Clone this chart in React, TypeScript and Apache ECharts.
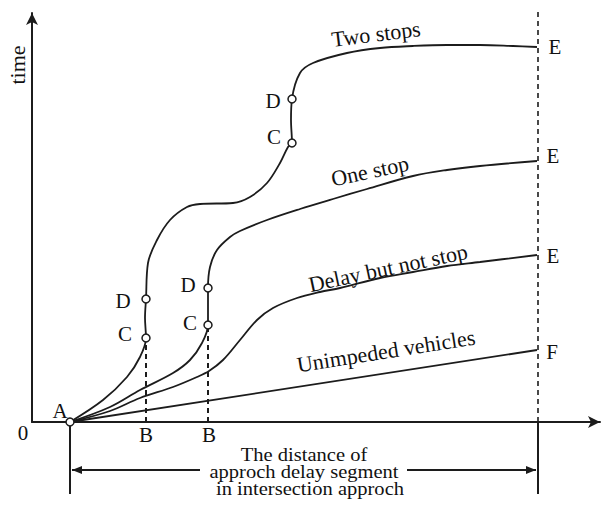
import React, { useEffect, useRef } from "react";
import * as echarts from "echarts";

// Axis extents (distance, time) in chart units
const xMax = 568;
const yMax = 409;

// Curves: [distance, time]
const twoStops = [[38,0],[71,22],[95,45],[108,65],[114,84],[113,104],[114,123],[116,159],[125,182],[138,202],[155,215],[168,218],[201,219],[218,225],[235,239],[248,259],[256,275],[260,279],[259,302],[260,323],[268,349],[281,359],[315,369],[348,374],[381,376],[415,377],[448,377],[481,376],[505,375]];
const oneStop = [[38,0],[78,15],[108,32],[141,49],[158,62],[170,79],[176,97],[176,116],[176,134],[178,155],[185,172],[198,185],[208,191],[235,202],[268,213],[301,223],[335,233],[381,246],[415,252],[448,256],[505,261]];
const delayNoStop = [[38,0],[78,11],[108,24],[141,35],[165,45],[177,51],[191,62],[208,82],[225,102],[241,114],[265,124],[288,130],[308,134],[348,144],[381,150],[415,156],[448,160],[505,167]];
const unimpeded = [[38,0],[505,72]];

// Marked points (hollow circles): A, C, D
const markedPoints = [[38,0],[114,84],[114,123],[176,97],[176,134],[260,279],[260,323]];

// Guide lines
const dashB1 = [[114,0],[114,84]];
const dashB2 = [[176,0],[176,97]];
const dashE = [[506,0],[506,414]];
const solidLeft = [[38,0],[38,-72]];
const solidRight = [[506,0],[506,-72]];
const arrowLeft = [[40,-48],[168,-48]];
const arrowRight = [[375,-48],[504,-48]];

// Text labels
const pointLabels: [string, number, number][] = [
  ["A", 28, 11], ["0", -9, -11], ["B", 114, -13], ["B", 177, -13],
  ["D", 91, 121], ["C", 93, 88], ["D", 156, 137], ["C", 158, 99],
  ["D", 241, 321], ["C", 242, 285],
  ["E", 523, 375], ["E", 521, 266], ["E", 521, 166], ["F", 520, 70],
];
const curveLabels: [string, number, number, number][] = [
  ["Two stops", 344, 388, 7],
  ["One stop", 338, 251, 12],
  ["Delay but not stop", 356, 154, 12],
  ["Unimpeded vehicles", 354, 71, 9],
];
const bottomLines: [string, number, number][] = [
  ["The distance of", 272, -33],
  ["approch delay segment", 272, -50],
  ["in intersection approch", 278, -67],
];
const axisTitle: [string, number, number] = ["time", -15, 357];

const INK = "#1c1c1c";
const FONT = "'Liberation Serif', 'Times New Roman', serif";

function lineSeries(data: number[][], dashed = false, width = 1.8) {
  return {
    type: "line",
    data,
    smooth: dashed ? false : 0.35,
    showSymbol: false,
    clip: false,
    silent: true,
    lineStyle: { color: INK, width, type: dashed ? [5, 4] : "solid" },
    z: 3,
  };
}

export default function App() {
  const ref = useRef<HTMLDivElement>(null);
  useEffect(() => {
    if (!ref.current) return;
    const chart = echarts.init(ref.current, undefined, { renderer: "svg" });
    const axisCommon = {
      type: "value",
      axisTick: { show: false },
      axisLabel: { show: false },
      splitLine: { show: false },
      axisLine: {
        show: true,
        symbol: ["none", "arrow"],
        symbolSize: [9, 12],
        lineStyle: { color: INK, width: 2 },
      },
    };
    chart.setOption({
      animation: false,
      backgroundColor: "#ffffff",
      grid: { left: 32, right: 8, top: 13, bottom: 83 },
      xAxis: { ...axisCommon, min: 0, max: xMax },
      yAxis: { ...axisCommon, min: 0, max: yMax },
      series: [
        lineSeries(twoStops),
        lineSeries(oneStop),
        lineSeries(delayNoStop),
        lineSeries(unimpeded),
        lineSeries(dashB1, true, 2),
        lineSeries(dashB2, true, 2),
        lineSeries(dashE, true, 1.6),
        lineSeries(solidLeft, false, 2),
        lineSeries(solidRight, false, 2),
        lineSeries(arrowLeft, false, 1.8),
        lineSeries(arrowRight, false, 1.8),
        {
          type: "scatter",
          data: markedPoints,
          symbol: "circle",
          symbolSize: 8,
          clip: false,
          silent: true,
          itemStyle: { color: "#ffffff", borderColor: INK, borderWidth: 1.5, opacity: 1 },
          z: 5,
        },
      ],
    });

    const p = (x: number, y: number) => chart.convertToPixel({ gridIndex: 0 }, [x, y]) as number[];
    const graphics: any[] = [];
    const text = (t: string, x: number, y: number, size: number, rot = 0, sx = 1) => {
      const [px, py] = p(x, y);
      graphics.push({
        type: "text",
        x: px,
        y: py,
        rotation: (rot * Math.PI) / 180,
        scaleX: sx,
        silent: true,
        z: 10,
        style: {
          text: t,
          x: 0,
          y: 0,
          fill: "#111",
          font: `${size}px ${FONT}`,
          align: "center",
          verticalAlign: "middle",
        },
      });
    };
    pointLabels.forEach(([t, x, y]) => text(t, x, y, 21));
    curveLabels.forEach(([t, x, y, r]) => text(t, x, y, 22, r));
    bottomLines.forEach(([t, x, y]) => text(t, x, y, 18, 0, 1.14));
    text(axisTitle[0], axisTitle[1], axisTitle[2], 22, 90);

    // arrowheads on the distance dimension line
    const lt = p(arrowLeft[0][0], arrowLeft[0][1]);
    const rt = p(arrowRight[1][0], arrowRight[1][1]);
    graphics.push({
      type: "polygon",
      silent: true,
      z: 10,
      shape: { points: [[lt[0], lt[1]], [lt[0] + 10, lt[1] - 4], [lt[0] + 10, lt[1] + 4]] },
      style: { fill: INK },
    });
    graphics.push({
      type: "polygon",
      silent: true,
      z: 10,
      shape: { points: [[rt[0], rt[1]], [rt[0] - 10, rt[1] - 4], [rt[0] - 10, rt[1] + 4]] },
      style: { fill: INK },
    });
    chart.setOption({ graphic: graphics });

    return () => chart.dispose();
  }, []);
  return (
    <div
      ref={ref}
      style={{ position: "absolute", left: 0, top: 0, width: 608, height: 505 }}
    />
  );
}
